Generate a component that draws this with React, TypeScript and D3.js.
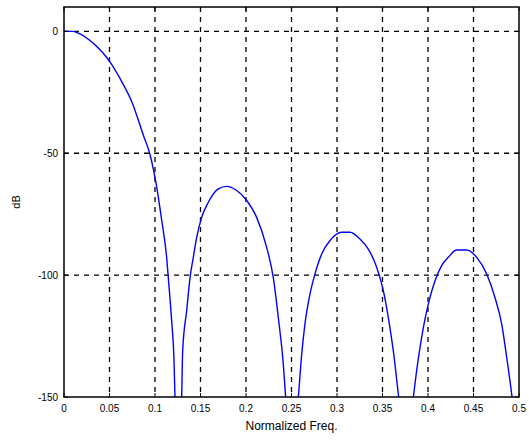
import * as d3 from 'd3'
import { useEffect, useRef } from 'react'

// magnitude response (normalized freq, dB)
const mainLobe: [number, number][] = [
  [0, 0], [0.009, 0], [0.0157, -0.7], [0.0322, -4.9], [0.0505, -12.5],
  [0.0615, -19.3], [0.0744, -28.8], [0.0871, -42.5], [0.0945, -50.5],
  [0.1019, -63.9], [0.1074, -77.6], [0.1128, -92.7], [0.1146, -101],
  [0.1183, -118.8], [0.1209, -135.2], [0.122, -150.8], [0.1255, -175],
]
const sideLobe1: [number, number][] = [
  [0.1255, -175], [0.1293, -150], [0.1304, -131], [0.1348, -114.6],
  [0.1385, -101], [0.1421, -92.7], [0.1458, -84.5], [0.1513, -76.3],
  [0.1586, -70.1], [0.1696, -64.6], [0.1788, -63.6], [0.1898, -65.3],
  [0.2008, -69.4], [0.2117, -76.3], [0.2227, -88.6], [0.23, -101],
  [0.2355, -117.4], [0.241, -136.6], [0.2436, -150.3], [0.25, -175],
]
const sideLobe2: [number, number][] = [
  [0.25, -175], [0.2575, -150], [0.2612, -132.5], [0.2648, -120],
  [0.2703, -107.8], [0.2758, -99.5], [0.2832, -91.3], [0.2923, -85.8],
  [0.3051, -82.4], [0.3143, -82.4], [0.3253, -85.2], [0.3344, -89.3],
  [0.3436, -96.8], [0.3509, -106.4], [0.3564, -117.4], [0.3619, -131.1],
  [0.3674, -148.9], [0.3755, -175],
]
const sideLobe3: [number, number][] = [
  [0.3755, -175], [0.3839, -150], [0.3875, -139.3], [0.3912, -129.7],
  [0.3949, -121.5], [0.4003, -111.9], [0.4077, -102.3], [0.415, -96.1],
  [0.4223, -92.7], [0.4315, -89.7], [0.4425, -89.7], [0.4535, -92.7],
  [0.4645, -99.5], [0.4736, -109.2], [0.481, -120.1], [0.4865, -133.8],
  [0.492, -148.9], [0.5, -175],
]
const response = [...mainLobe, ...sideLobe1.slice(1), ...sideLobe2.slice(1), ...sideLobe3.slice(1)]

const xTicks = [0, 0.05, 0.1, 0.15, 0.2, 0.25, 0.3, 0.35, 0.4, 0.45, 0.5]
const yTicks = [0, -50, -100, -150]

const App = () => {
  const ref = useRef<SVGSVGElement>(null)

  useEffect(() => {
    const width = 529
    const height = 442
    const margin = { top: 7, right: 10, bottom: 45, left: 64 }
    const w = width - margin.left - margin.right
    const h = height - margin.top - margin.bottom

    const svg = d3.select(ref.current)
    svg.selectAll('*').remove()
    svg.attr('width', width).attr('height', height)

    const x = d3.scaleLinear().domain([0, 0.5]).range([0, w])
    const y = d3.scaleLinear().domain([-150, 10]).range([h, 0])

    svg
      .append('defs')
      .append('clipPath')
      .attr('id', 'plotclip')
      .append('rect')
      .attr('width', w)
      .attr('height', h)

    const g = svg.append('g').attr('transform', `translate(${margin.left},${margin.top})`)

    // grid
    g.selectAll('.vgrid')
      .data(xTicks.slice(1, -1))
      .enter()
      .append('line')
      .attr('x1', (d) => x(d))
      .attr('x2', (d) => x(d))
      .attr('y1', 0)
      .attr('y2', h)
      .attr('stroke', '#000')
      .attr('stroke-width', 1.3)
      .attr('stroke-dasharray', '5,5')
    g.selectAll('.hgrid')
      .data(yTicks.slice(0, -1))
      .enter()
      .append('line')
      .attr('x1', 0)
      .attr('x2', w)
      .attr('y1', (d) => y(d))
      .attr('y2', (d) => y(d))
      .attr('stroke', '#000')
      .attr('stroke-width', 1.3)
      .attr('stroke-dasharray', '5,5')

    // curve
    const line = d3
      .line<[number, number]>()
      .x((d) => x(d[0]))
      .y((d) => y(d[1]))
      .curve(d3.curveMonotoneX)
    g.append('path')
      .datum(response)
      .attr('clip-path', 'url(#plotclip)')
      .attr('d', line)
      .attr('fill', 'none')
      .attr('stroke', '#0000ff')
      .attr('stroke-width', 1.4)

    // inner ticks on all sides
    const tl = 4
    xTicks.forEach((t) => {
      g.append('line').attr('x1', x(t)).attr('x2', x(t)).attr('y1', h).attr('y2', h - tl).attr('stroke', '#000')
      g.append('line').attr('x1', x(t)).attr('x2', x(t)).attr('y1', 0).attr('y2', tl).attr('stroke', '#000')
    })
    yTicks.forEach((t) => {
      g.append('line').attr('x1', 0).attr('x2', tl).attr('y1', y(t)).attr('y2', y(t)).attr('stroke', '#000')
      g.append('line').attr('x1', w).attr('x2', w - tl).attr('y1', y(t)).attr('y2', y(t)).attr('stroke', '#000')
    })

    // box
    g.append('rect')
      .attr('width', w)
      .attr('height', h)
      .attr('fill', 'none')
      .attr('stroke', '#000')
      .attr('stroke-width', 1.5)

    const font = 'Liberation Sans, Arial, sans-serif'
    g.selectAll('.xlab')
      .data(xTicks)
      .enter()
      .append('text')
      .attr('x', (d) => x(d))
      .attr('y', h + 15)
      .attr('text-anchor', 'middle')
      .attr('font-family', font)
      .attr('font-size', 10)
      .text((d) => String(d))
    g.selectAll('.ylab')
      .data(yTicks)
      .enter()
      .append('text')
      .attr('x', -6)
      .attr('y', (d) => y(d) + 3.5)
      .attr('text-anchor', 'end')
      .attr('font-family', font)
      .attr('font-size', 10)
      .text((d) => String(d))

    g.append('text')
      .attr('x', w / 2)
      .attr('y', h + 33)
      .attr('text-anchor', 'middle')
      .attr('font-family', font)
      .attr('font-size', 12)
      .text('Normalized Freq.')
    g.append('text')
      .attr('transform', `translate(${-44},${h / 2}) rotate(-90)`)
      .attr('text-anchor', 'middle')
      .attr('font-family', font)
      .attr('font-size', 11)
      .text('dB')
  }, [])

  return (
    <div style={{ position: 'absolute', left: 0, top: 0 }}>
      <svg ref={ref}></svg>
    </div>
  )
}

export default App
